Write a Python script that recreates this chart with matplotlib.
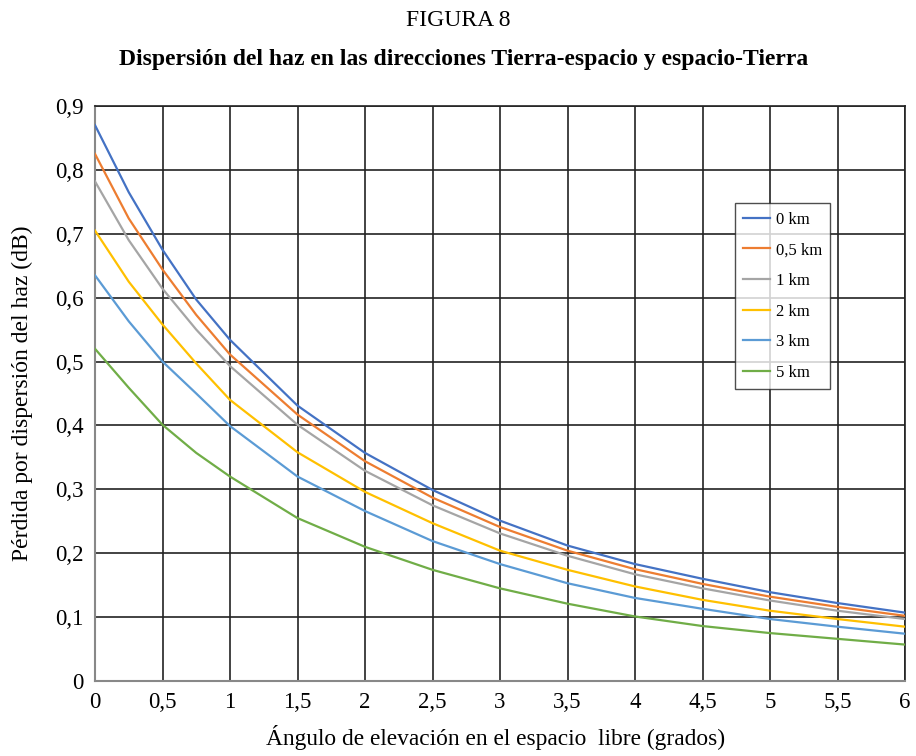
import matplotlib
matplotlib.use("Agg")
import matplotlib.pyplot as plt
import matplotlib.ticker as mticker

plt.rcParams['font.family'] = ['Liberation Serif', 'DejaVu Serif']

# Elevation angle (degrees)
angle = [0, 0.25, 0.5, 0.75, 1, 1.5, 2, 2.5, 3, 3.5, 4, 4.5, 5, 5.5, 6]

# Beam spreading loss (dB) for each station height
loss_0km = [0.870, 0.765, 0.675, 0.597, 0.534, 0.431, 0.357, 0.299, 0.251, 0.212, 0.183, 0.160, 0.139, 0.122, 0.107]
loss_05km = [0.825, 0.724, 0.644, 0.573, 0.511, 0.417, 0.344, 0.287, 0.241, 0.204, 0.175, 0.152, 0.132, 0.116, 0.102]
loss_1km = [0.782, 0.690, 0.614, 0.550, 0.493, 0.401, 0.329, 0.275, 0.231, 0.196, 0.167, 0.145, 0.126, 0.110, 0.097]
loss_2km = [0.705, 0.625, 0.558, 0.497, 0.440, 0.358, 0.296, 0.247, 0.204, 0.174, 0.148, 0.127, 0.110, 0.097, 0.085]
loss_3km = [0.635, 0.563, 0.500, 0.450, 0.399, 0.320, 0.266, 0.219, 0.183, 0.153, 0.130, 0.113, 0.097, 0.085, 0.074]
loss_5km = [0.520, 0.459, 0.401, 0.357, 0.320, 0.255, 0.210, 0.174, 0.145, 0.121, 0.101, 0.086, 0.075, 0.066, 0.057]

labels = ["0 km", "0,5 km", "1 km", "2 km", "3 km", "5 km"]
colors = ["#4472C4", "#ED7D31", "#A5A5A5", "#FFC000", "#5B9BD5", "#70AD47"]
series = [loss_0km, loss_05km, loss_1km, loss_2km, loss_3km, loss_5km]

fig = plt.figure(figsize=(9.16, 7.56), dpi=100)
ax = fig.add_axes([95 / 916, 75 / 756, 810 / 916, 575 / 756])

for vals, lab, col in zip(series, labels, colors):
    ax.plot(angle, vals, color=col, lw=1.6, label=lab, zorder=3)

ax.set_xlim(0, 6)
ax.set_ylim(0, 0.9)
ax.xaxis.set_major_locator(mticker.MultipleLocator(0.5))
ax.yaxis.set_major_locator(mticker.MultipleLocator(0.1))

def comma_fmt(v, pos):
    s = f"{v:.1f}".rstrip("0").rstrip(".")
    return s.replace(".", ",")

ax.xaxis.set_major_formatter(mticker.FuncFormatter(comma_fmt))
ax.yaxis.set_major_formatter(mticker.FuncFormatter(comma_fmt))
ax.tick_params(length=0, labelsize=16.5, pad=8)
ax.grid(True, color="#222222", lw=1.2)

for side in ["top", "right"]:
    ax.spines[side].set_color("#222222")
    ax.spines[side].set_linewidth(1.2)
for side in ["left", "bottom"]:
    ax.spines[side].set_color("#888888")
    ax.spines[side].set_linewidth(1.5)

leg = ax.legend(loc="upper left", bbox_to_anchor=(0.79, 0.831), borderaxespad=0,
                fontsize=12, frameon=True, fancybox=False, edgecolor="#222222",
                handlelength=1.6, handletextpad=0.35, labelspacing=0.88,
                borderpad=0.5)
leg.get_frame().set_linewidth(1.0)

fig.text(0.5, 1 - 21 / 756, "FIGURA 8", ha="center", va="center", fontsize=17)
fig.text(464 / 916, 1 - 59 / 756, "Dispersión del haz en las direcciones Tierra-espacio y espacio-Tierra",
         ha="center", va="center", fontsize=17, fontweight="bold")
fig.text(22 / 916, 1 - 393 / 756, "Pérdida por dispersión del haz (dB)",
         ha="center", va="center", rotation=90, fontsize=17)
fig.text(496 / 916, 1 - 738 / 756, "Ángulo de elevación en el espacio  libre (grados)",
         ha="center", va="center", fontsize=16.8)

fig.savefig("out.png", dpi=100)
